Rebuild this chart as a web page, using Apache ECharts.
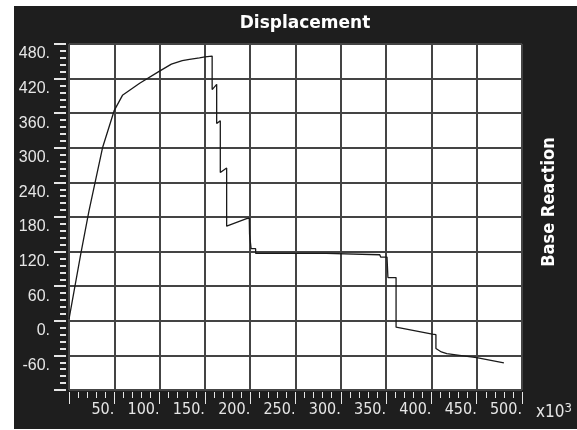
<!DOCTYPE html>
<html>
<head>
<meta charset="utf-8">
<script src="https://cdn.jsdelivr.net/npm/echarts@6/dist/echarts.min.js"></script>
<style>
  html, body { margin: 0; padding: 0; background: #ffffff; width: 577px; height: 430px; overflow: hidden; }
  #graph { position: absolute; left: 14px; top: 6px; width: 563px; height: 423px; }
</style>
</head>
<body>
<div id="graph"></div>
<script>
// displacement, in units of 10^3
const displacement = [
  0, 13, 22, 37, 50, 59, 78, 99, 113, 125, 133, 144, 150, 158,
  158, 163, 163, 167, 167, 174, 174, 196, 199, 199.3, 200.3, 201, 206, 206,
  284, 285, 343, 344, 351, 352, 361, 361, 401, 405, 405, 411, 417, 431, 450, 480
];
const baseReaction = [
  3, 116, 190, 300, 365, 391, 412, 432, 445, 451, 453.5, 456, 457.5, 459,
  401, 410, 342, 347, 257, 265, 164, 177, 178, 150, 150, 125, 125, 117,
  117, 114.5, 114.5, 110.5, 110.5, 75, 75, -11, -23, -24, -48, -54, -57, -60, -64, -73
];
const xTicks = { min: 0, max: 500, step: 50 };
const yTicks = { min: -120, max: 480, step: 60 };

function makeOption() {
  const points = displacement.map((d, i) => [d, baseReaction[i]]);
  const tickColor = '#e6e6e6';
  const narrow = '"Liberation Sans Narrow", "DejaVu Sans Condensed", sans-serif';
  return {
    animation: false,
    backgroundColor: '#1e1e1e',
    title: {
      text: 'Displacement',
      left: 286,
      top: 4,
      textAlign: 'center',
      textStyle: {
        color: '#ffffff',
        fontFamily: 'DejaVu Sans',
        fontWeight: 'bold',
        fontSize: 17
      }
    },
    graphic: [
      {
        type: 'text',
        x: 535,
        y: 196,
        rotation: Math.PI / 2,
        style: {
          text: 'Base Reaction',
          fill: '#ffffff',
          font: 'bold 18px "DejaVu Sans Condensed", "DejaVu Sans", sans-serif',
          align: 'center',
          verticalAlign: 'middle'
        }
      }
    ],
    grid: {
      left: 55,
      right: 55,
      top: 38,
      bottom: 39,
      show: true,
      backgroundColor: '#ffffff',
      borderWidth: 0
    },
    xAxis: {
      type: 'value',
      min: xTicks.min,
      max: xTicks.max,
      interval: xTicks.step,
      offset: 2,
      axisLine: { show: false, onZero: false },
      axisTick: { show: true, length: 12, lineStyle: { color: tickColor, width: 1 } },
      minorTick: { show: true, splitNumber: 5, length: 6, lineStyle: { color: tickColor, width: 1 } },
      splitLine: { show: true, lineStyle: { color: '#444444', width: 2 } },
      axisLabel: {
        color: tickColor,
        fontFamily: narrow,
        fontSize: 16,
        align: 'right',
        margin: 10,
        formatter: (v) => (v === xTicks.min ? '' : v + '.')
      },
      name: '{a|x10}{b|3}',
      nameLocation: 'end',
      nameGap: 14,
      nameTextStyle: {
        verticalAlign: 'top',
        padding: [10, 0, 0, 0],
        rich: {
          a: { color: tickColor, fontFamily: narrow, fontSize: 17 },
          b: { color: tickColor, fontFamily: narrow, fontSize: 13, verticalAlign: 'top', padding: [0, 0, 8, 0] }
        }
      }
    },
    yAxis: {
      type: 'value',
      min: yTicks.min,
      max: yTicks.max,
      interval: yTicks.step,
      offset: 3,
      axisLine: { show: false, onZero: false },
      axisTick: { show: true, length: 12, lineStyle: { color: tickColor, width: 2 } },
      minorTick: { show: true, splitNumber: 5, length: 6, lineStyle: { color: tickColor, width: 2 } },
      splitLine: { show: true, lineStyle: { color: '#444444', width: 2 } },
      axisLabel: {
        color: tickColor,
        fontFamily: '"Liberation Sans", Arial, sans-serif',
        fontSize: 16,
        margin: 16,
        verticalAlign: 'top',
        padding: [2, 0, 0, 0],
        formatter: (v) => (v === yTicks.min ? '' : v + '.')
      }
    },
    series: [
      {
        type: 'line',
        data: points,
        symbol: 'none',
        lineStyle: { color: '#1a1a1a', width: 1.3 }
      }
    ]
  };
}

const myChart = echarts.init(document.getElementById('graph'));
myChart.setOption(makeOption());
</script>
</body>
</html>
